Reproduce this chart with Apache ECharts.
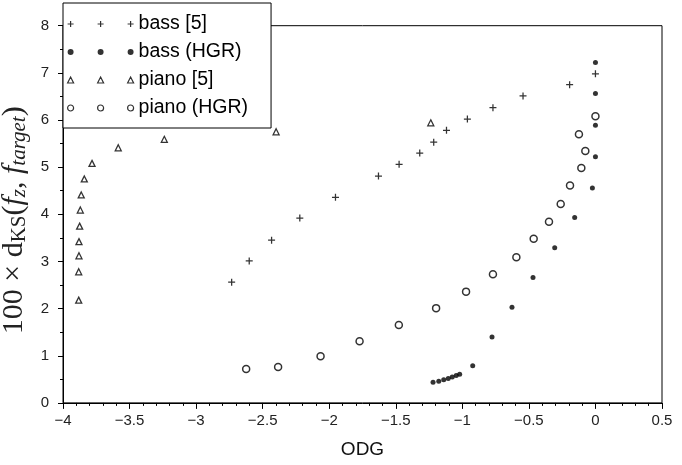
<!DOCTYPE html>
<html>
<head>
<meta charset="utf-8">
<script src="https://cdn.jsdelivr.net/npm/echarts@6/dist/echarts.min.js"></script>
<style>html,body{margin:0;padding:0;background:#fff}#c{width:682px;height:465px}</style>
</head>
<body>
<div id="c"></div>
<script>
// ---- data (ODG, 100 x dKS) ----
const bass5X = [-2.733, -2.601, -2.433, -2.221, -1.953, -1.630, -1.475, -1.320, -1.215, -1.119, -0.962, -0.770, -0.544, -0.194, 0.0];
const bass5Y = [2.56, 3.01, 3.45, 3.92, 4.36, 4.81, 5.06, 5.30, 5.53, 5.78, 6.02, 6.26, 6.51, 6.75, 6.98];

const bassHgrX = [0.0, 0.0, 0.0, 0.0, -0.023, -0.156, -0.306, -0.469, -0.627, -0.777, -0.922, -1.020, -1.046, -1.076, -1.106, -1.140, -1.177, -1.220];
const bassHgrY = [7.22, 6.56, 5.89, 5.22, 4.56, 3.93, 3.29, 2.66, 2.03, 1.40, 0.79, 0.61, 0.58, 0.55, 0.52, 0.49, 0.46, 0.44];

const piano5X = [-3.882, -3.882, -3.880, -3.880, -3.875, -3.870, -3.863, -3.840, -3.782, -3.585, -3.239, -2.399, -1.237];
const piano5Y = [2.18, 2.78, 3.12, 3.42, 3.75, 4.09, 4.41, 4.75, 5.08, 5.41, 5.59, 5.75, 5.94];

const pianoHgrX = [-2.624, -2.384, -2.065, -1.772, -1.477, -1.197, -0.972, -0.770, -0.594, -0.464, -0.349, -0.261, -0.191, -0.106, -0.076, -0.124, 0.0];
const pianoHgrY = [0.72, 0.76, 0.99, 1.31, 1.65, 2.01, 2.36, 2.73, 3.09, 3.48, 3.84, 4.22, 4.61, 4.98, 5.34, 5.70, 6.08];

const seriesNames = ['bass [5]', 'bass (HGR)', 'piano [5]', 'piano (HGR)'];
const xTicks = { min: -4, max: 0.5, step: 0.5 };
const yTicks = { min: 0, max: 8, step: 1 };

// ---- helpers ----
const zip = (xs, ys) => xs.map((x, i) => [x, ys[i]]);
const centers = [3, 33, 63];
const plusPath = 'path://' + centers.map(c =>
  `M${c-0.6},0H${c+0.6}V2.4H${c+3}V3.6H${c+0.6}V6H${c-0.6}V3.6H${c-3}V2.4H${c-0.6}Z`).join('');
const circPath = 'path://' + centers.map(c =>
  `M${c-3},3a3,3 0 1,0 6,0a3,3 0 1,0 -6,0Z`).join('');
const dotPath = circPath;
const triPath = 'path://' + centers.map(c =>
  `M${c},0L${c+3},6L${c-3},6Z`).join('');
const plusSym = 'path://M-0.18,-1H0.18V-0.18H1V0.18H0.18V1H-0.18V0.18H-1V-0.18H-0.18Z';

const ink = '#000';
const fmt = v => (v < 0 ? '\u2212' : '') + String(Math.abs(Math.round(v * 10) / 10));

const serif = 'Liberation Serif';
const chart = echarts.init(document.getElementById('c'), null, { renderer: 'canvas' });
chart.setOption({
  animation: false,
  backgroundColor: '#fff',
  grid: { left: 63, right: 20, top: 25.7, bottom: 62.1, containLabel: false, outerBoundsMode: 'none',
    show: true, borderColor: '#000', borderWidth: 1, backgroundColor: 'transparent' },
  legend: {
    orient: 'vertical', left: 63, top: 3,
    padding: [11, 23, 10, 4],
    itemWidth: 66, itemHeight: 6, itemGap: 8,
    backgroundColor: '#fff', borderColor: '#000', borderWidth: 1,
    selectedMode: false,
    textStyle: { fontSize: 19.5, fontFamily: 'Liberation Sans', color: '#000', lineHeight: 18 },
    data: [
      { name: seriesNames[0], icon: plusPath, itemStyle: { color: ink, borderWidth: 0 } },
      { name: seriesNames[1], icon: dotPath, itemStyle: { color: ink, borderWidth: 0 } },
      { name: seriesNames[2], icon: triPath, itemStyle: { color: '#fff', borderColor: ink, borderWidth: 1.2 } },
      { name: seriesNames[3], icon: circPath, itemStyle: { color: '#fff', borderColor: ink, borderWidth: 1.2 } }
    ]
  },
  xAxis: {
    type: 'value', min: xTicks.min, max: xTicks.max, interval: xTicks.step,
    axisLine: { show: true, onZero: false, lineStyle: { color: '#000', width: 1 } },
    axisTick: { show: true, length: 6, lineStyle: { color: '#000' } },
    minorTick: { show: true, splitNumber: 5, length: 3, lineStyle: { color: '#000' } },
    splitLine: { show: false },
    axisLabel: { fontSize: 15, fontFamily: 'Liberation Sans', color: '#222', margin: 10, formatter: fmt },
    name: 'ODG', nameLocation: 'middle', nameGap: 37,
    nameTextStyle: { fontSize: 19, fontFamily: 'Liberation Sans', color: '#111' }
  },
  yAxis: {
    type: 'value', min: yTicks.min, max: yTicks.max, interval: yTicks.step,
    axisLine: { show: true, onZero: false, lineStyle: { color: '#000', width: 1 } },
    axisTick: { show: true, length: 5, lineStyle: { color: '#000' } },
    minorTick: { show: true, splitNumber: 2, length: 3, lineStyle: { color: '#000' } },
    splitLine: { show: false },
    axisLabel: { fontSize: 15, fontFamily: 'Liberation Sans', color: '#222', margin: 14, formatter: fmt },
    name: '{a|100 × d}{s|KS}{a|(}{i|f}{is|z}{a|, }{i|f}{is|target}{a|)}',
    nameLocation: 'middle', nameGap: 12, nameRotate: 90,
    nameTextStyle: {
      color: '#000',
      padding: [0, 12, 0, 0],
      rich: {
        a: { fontFamily: serif, fontSize: 30, lineHeight: 32, color: '#222' },
        i: { fontFamily: serif, fontStyle: 'italic', fontSize: 30, lineHeight: 32, color: '#222' },
        s: { fontFamily: serif, fontSize: 21, lineHeight: 17, verticalAlign: 'bottom', color: '#222' },
        is: { fontFamily: serif, fontStyle: 'italic', fontSize: 21, lineHeight: 17, verticalAlign: 'bottom', color: '#222' }
      }
    }
  },
  series: [
    { name: seriesNames[0], type: 'scatter', data: zip(bass5X, bass5Y), symbol: plusSym, symbolSize: 7,
      itemStyle: { color: ink, borderWidth: 0 }, silent: true },
    { name: seriesNames[1], type: 'scatter', data: zip(bassHgrX, bassHgrY), symbol: 'circle', symbolSize: 5,
      itemStyle: { color: ink, borderWidth: 0 }, silent: true },
    { name: seriesNames[2], type: 'scatter', data: zip(piano5X, piano5Y), symbol: 'triangle', symbolSize: 6,
      itemStyle: { color: '#fff', borderColor: ink, borderWidth: 1.3 }, silent: true },
    { name: seriesNames[3], type: 'scatter', data: zip(pianoHgrX, pianoHgrY), symbol: 'circle', symbolSize: 7,
      itemStyle: { color: '#fff', borderColor: ink, borderWidth: 1.5 }, silent: true }
  ]
});
</script>
</body>
</html>
